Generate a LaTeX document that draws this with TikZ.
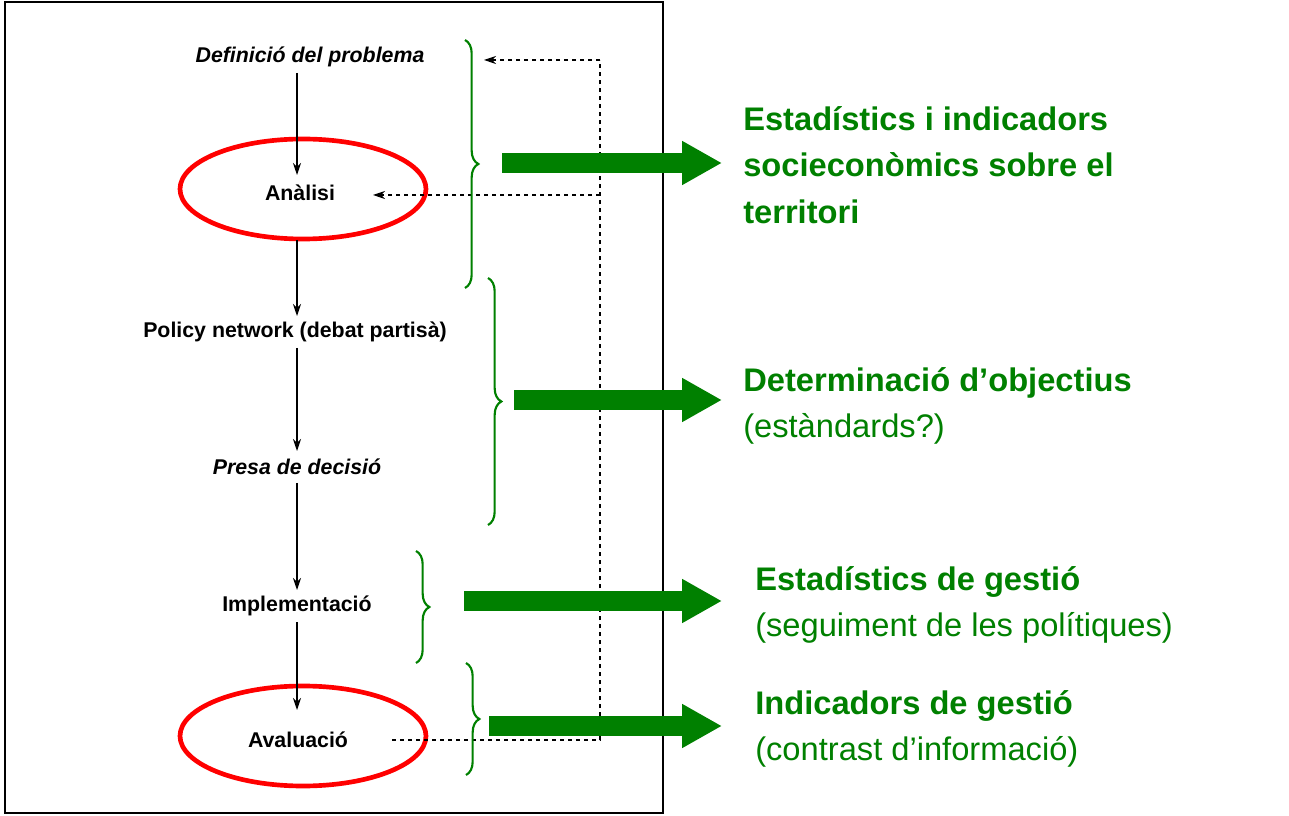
\documentclass[tikz,border=0pt]{standalone}
\usepackage{fontspec}
\setmainfont{Liberation Sans}
\usetikzlibrary{decorations.pathreplacing,arrows.meta}
\definecolor{gr}{RGB}{0,128,0}
\begin{document}
\begin{tikzpicture}[x=0.75pt,y=-0.75pt,
 lab/.style={font=\fontsize{16}{18}\selectfont\bfseries,inner sep=1pt},
 ilab/.style={font=\fontsize{16}{18}\selectfont\bfseries\itshape,inner sep=1pt},
 flow/.style={-{Stealth[length=9pt,width=6pt]},thick},
 dline/.style={dashed,thick},
 darr/.style={dashed,thick,-{Stealth[length=9pt,width=6pt]}},
 brace/.style={decorate,decoration={brace,amplitude=10pt},gr,line width=1.6pt},
 big/.style={-{Triangle[length=30pt,width=31pt]},gr,line width=15pt},
 gt/.style={gr,anchor=west,align=left,inner sep=0pt,font=\fontsize{24.5}{35}\selectfont\bfseries}]
\useasboundingbox (0,0) rectangle (1289,816);
\draw[thick] (5,2) rectangle (663,813);
\node[ilab] (def) at (310,57) {Definició del problema};
\node[lab] (ana) at (300,193) {Anàlisi};
\node[lab] (pol) at (295,332) {Policy network (debat partisà)};
\node[ilab] (pre) at (297,467) {Presa de decisió};
\node[lab] (imp) at (297,606) {Implementació};
\node[lab] (ava) at (298,740) {Avaluació};
\draw[red,line width=3.5pt] (303,189) ellipse [x radius=123,y radius=50];
\draw[red,line width=3.5pt] (303,736) ellipse [x radius=123,y radius=50];
\draw[flow] (297,73) -- (297,175);
\draw[flow] (297,240) -- (297,316);
\draw[flow] (297,348) -- (297,451);
\draw[flow] (297,483) -- (297,590);
\draw[flow] (297,622) -- (297,710);
\coordinate (c0) at (392,740);
\coordinate (c1) at (600,740);
\coordinate (c2) at (600,60);
\coordinate (c3) at (600,195);
\draw[dline] (c0) -- (c1) -- (c2);
\draw[darr] (c2) -- (484,60);
\draw[darr] (c3) -- (373,195);
\draw[brace] (465,40) -- (465,288);
\draw[brace] (488,278) -- (488,525);
\draw[brace] (416,551) -- (416,663);
\draw[brace] (466,663) -- (466,775);
\coordinate (a1) at (722,163); \draw[big] (502,163) -- (a1);
\coordinate (a2) at (722,400); \draw[big] (514,400) -- (a2);
\coordinate (a3) at (722,601); \draw[big] (464,601) -- (a3);
\coordinate (a4) at (722,726); \draw[big] (489,726) -- (a4);
\node[gt] (t1) at (743,165) {Estadístics i indicadors\\socieconòmics sobre el\\territori};
\node[gt] (t2) at (743,406) {Determinació d’objectius\\{\mdseries (estàndards?)}};
\node[gt] (t3) at (755,605) {Estadístics de gestió\\{\mdseries (seguiment de les polítiques)}};
\node[gt] (t4) at (755,729) {Indicadors de gestió\\{\mdseries (contrast d’informació)}};
\end{tikzpicture}
\end{document}
